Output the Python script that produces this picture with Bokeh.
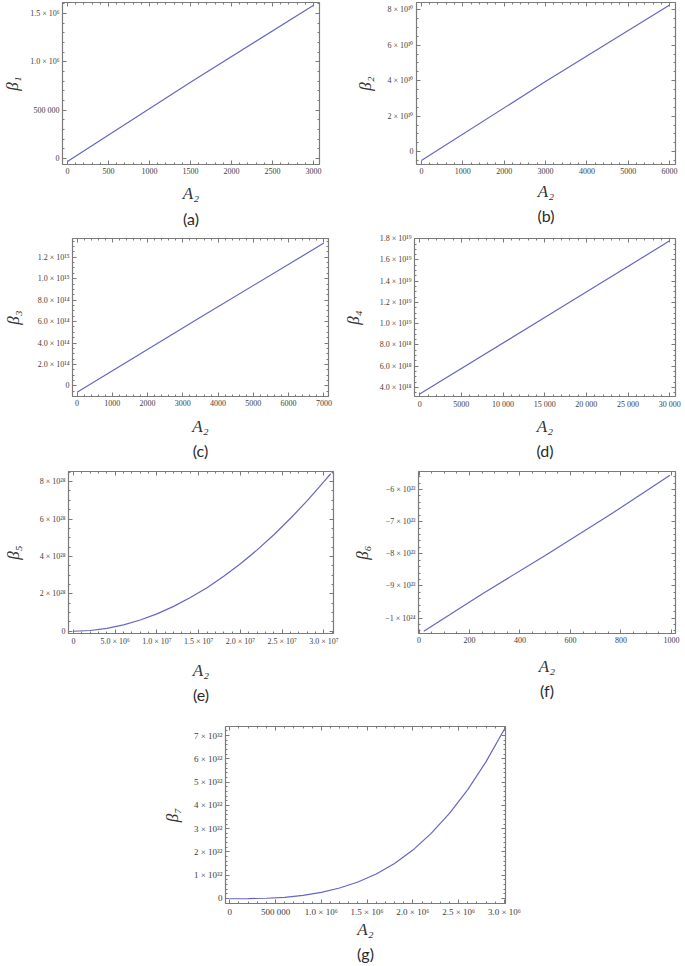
from bokeh.plotting import figure
from bokeh.models import Range1d, FixedTicker, LinearAxis, Title
from bokeh.layouts import column, row
from bokeh.embed import file_html
from bokeh.resources import INLINE
import math

# ---------------- data ----------------
# (a)
a_x = [0, 1500, 3000]
a_y = [-3.1e4, 7.9e5, 1.586e6]
a_xticks = [0, 500, 1000, 1500, 2000, 2500, 3000]
a_xlabels = ["0", "500", "1000", "1500", "2000", "2500", "3000"]
a_yticks = [0, 5e5, 1e6, 1.5e6]
a_ylabels = ["0", "500 000", "1.0 × 10⁶", "1.5 × 10⁶"]

# (b)
b_x = [0, 3000, 6000]
b_y = [-5.0e9, 3.95e10, 8.26e10]
b_xticks = [0, 1000, 2000, 3000, 4000, 5000, 6000]
b_xlabels = ["0", "1000", "2000", "3000", "4000", "5000", "6000"]
b_yticks = [0, 2e10, 4e10, 6e10, 8e10]
b_ylabels = ["0", "2 × 10¹⁰", "4 × 10¹⁰", "6 × 10¹⁰", "8 × 10¹⁰"]

# (c)
c_x = [0, 3500, 7000]
c_y = [-6.0e13, 6.4e14, 1.332e15]
c_xticks = [0, 1000, 2000, 3000, 4000, 5000, 6000, 7000]
c_xlabels = ["0", "1000", "2000", "3000", "4000", "5000", "6000", "7000"]
c_yticks = [0, 2e14, 4e14, 6e14, 8e14, 1e15, 1.2e15]
c_ylabels = ["0", "2.0 × 10¹⁴", "4.0 × 10¹⁴", "6.0 × 10¹⁴", "8.0 × 10¹⁴",
             "1.0 × 10¹⁵", "1.2 × 10¹⁵"]

# (d)
d_x = [0, 15000, 30000]
d_y = [3.39e18, 1.058e19, 1.78e19]
d_xticks = [0, 5000, 10000, 15000, 20000, 25000, 30000]
d_xlabels = ["0", "5000", "10 000", "15 000", "20 000", "25 000", "30 000"]
d_yticks = [4e18, 6e18, 8e18, 1e19, 1.2e19, 1.4e19, 1.6e19, 1.8e19]
d_ylabels = ["4.0 × 10¹⁸", "6.0 × 10¹⁸", "8.0 × 10¹⁸", "1.0 × 10¹⁹",
             "1.2 × 10¹⁹", "1.4 × 10¹⁹", "1.6 × 10¹⁹", "1.8 × 10¹⁹"]

# (e)
e_x = [0, 2e6, 4e6, 6e6, 8e6, 1.0e7, 1.2e7, 1.4e7, 1.6e7, 1.8e7, 2.0e7,
       2.2e7, 2.4e7, 2.6e7, 2.8e7, 3.0e7, 3.08e7]
e_y = [0, 4.0e26, 1.54e27, 3.41e27, 6.0e27, 9.3e27, 1.33e28, 1.8e28, 2.33e28,
       2.94e28, 3.61e28, 4.35e28, 5.16e28, 6.04e28, 6.98e28, 8.0e28, 8.42e28]
e_xticks = [0, 5e6, 1e7, 1.5e7, 2e7, 2.5e7, 3e7]
e_xlabels = ["0", "5.0 × 10⁶", "1.0 × 10⁷", "1.5 × 10⁷", "2.0 × 10⁷",
             "2.5 × 10⁷", "3.0 × 10⁷"]
e_yticks = [0, 2e28, 4e28, 6e28, 8e28]
e_ylabels = ["0", "2 × 10²⁸", "4 × 10²⁸", "6 × 10²⁸", "8 × 10²⁸"]

# (f)
f_x = [19, 250, 500, 750, 994]
f_y = [-1.041e24, -9.25e23, -8.05e23, -6.82e23, -5.56e23]
f_xticks = [0, 200, 400, 600, 800, 1000]
f_xlabels = ["0", "200", "400", "600", "800", "1000"]
f_yticks = [-1e24, -9e23, -8e23, -7e23, -6e23]
f_ylabels = ["−1 × 10²⁴", "−9 × 10²³", "−8 × 10²³", "−7 × 10²³", "−6 × 10²³"]

# (g)
g_x = [0, 2e5, 4e5, 6e5, 8e5, 1.0e6, 1.2e6, 1.4e6, 1.6e6, 1.8e6, 2.0e6,
       2.2e6, 2.4e6, 2.6e6, 2.8e6, 3.0e6]
g_y = [-1e30, -5e29, 1.0e30, 5.0e30, 1.35e31, 2.6e31, 4.5e31, 7.1e31, 1.05e32,
       1.5e32, 2.08e32, 2.8e32, 3.66e32, 4.68e32, 5.88e32, 7.27e32]
g_xticks = [0, 5e5, 1e6, 1.5e6, 2e6, 2.5e6, 3e6]
g_xlabels = ["0", "500 000", "1.0 × 10⁶", "1.5 × 10⁶", "2.0 × 10⁶",
             "2.5 × 10⁶", "3.0 × 10⁶"]
g_yticks = [0, 1e32, 2e32, 3e32, 4e32, 5e32, 6e32, 7e32]
g_ylabels = ["0", "1 × 10³²", "2 × 10³²", "3 × 10³²", "4 × 10³²",
             "5 × 10³²", "6 × 10³²", "7 × 10³²"]

ylabels_text = ["β₁", "β₂", "β₃", "β₄", "β₅", "β₆", "β₇"]
captions = ["(a)", "(b)", "(c)", "(d)", "(e)", "(f)", "(g)"]

# ---------------- style ----------------
LINE = "#6666c4"
FRAME = "#7a7a7a"
TICKTXT = "#404040"
LABTXT = "#333333"


def minor_ticks(lo, hi, step):
    k0 = math.ceil(lo / step)
    k1 = math.floor(hi / step)
    return [k * step for k in range(k0, k1 + 1)]


def panel(x, y, xt, xl, yt, yl, xr, yr, xminor, yminor, ylab, cap, lay,
          tick_size="8px", xls=4, yls=2, cap_standoff=2):
    w, h, bl, br, bt, bb = lay
    p = figure(width=w, height=h, x_range=Range1d(*xr), y_range=Range1d(*yr),
               output_backend="svg", toolbar_location=None,
               min_border_left=bl, min_border_right=br,
               min_border_top=bt, min_border_bottom=bb)
    p.xgrid.visible = False
    p.ygrid.visible = False
    p.outline_line_color = FRAME
    p.background_fill_color = "white"
    p.border_fill_color = "white"

    xtk = FixedTicker(ticks=xt, minor_ticks=minor_ticks(xr[0], xr[1], xminor))
    ytk = FixedTicker(ticks=yt, minor_ticks=minor_ticks(yr[0], yr[1], yminor))

    xa = p.xaxis[0]
    ya = p.yaxis[0]
    xa.ticker = xtk
    ya.ticker = ytk
    xa.major_label_overrides = {t: s for t, s in zip(xt, xl)}
    ya.major_label_overrides = {t: s for t, s in zip(yt, yl)}
    xa.axis_label = "A₂"
    ya.axis_label = ylab
    xa.axis_label_standoff = xls
    ya.axis_label_standoff = yls

    top = LinearAxis(ticker=xtk)
    right = LinearAxis(ticker=ytk)
    top.major_label_overrides = {t: "" for t in xt}
    right.major_label_overrides = {t: "" for t in yt}
    p.add_layout(top, "above")
    p.add_layout(right, "right")

    for ax in (xa, ya, top, right):
        ax.axis_line_color = FRAME
        ax.axis_line_width = 1.2
        ax.major_tick_line_color = FRAME
        ax.minor_tick_line_color = FRAME
        ax.major_tick_in = 4
        ax.major_tick_out = 0
        ax.minor_tick_in = 2
        ax.minor_tick_out = 0
        ax.major_label_text_font = "Liberation Serif"
        ax.major_label_text_font_size = tick_size
        ax.major_label_text_color = TICKTXT
        ax.major_label_standoff = 3
        ax.axis_label_text_font = "Liberation Serif"
        ax.axis_label_text_font_style = "italic"
        ax.axis_label_text_font_size = "17px"
        ax.axis_label_text_color = LABTXT
    for ax in (top, right):
        ax.major_label_text_font_size = "0px"
        ax.major_label_standoff = 0

    p.line(x, y, line_color=LINE, line_width=1.2)

    p.add_layout(Title(text=cap, align="center", text_font="Lato",
                       text_font_size="16px", text_font_style="normal",
                       text_color="#2a2a2a", standoff=cap_standoff), "below")
    return p


# layout tuples: (width, height, border_left, border_right, border_top, border_bottom)
pa = panel(a_x, a_y, a_xticks, a_xlabels, a_yticks, a_ylabels,
           (-60, 3072), (-6.2e4, 1.614e6), 100, 1e5, ylabels_text[0], captions[0],
           (340, 232, 57, 21, 2, 68), xls=7, yls=5, cap_standoff=2)
pb = panel(b_x, b_y, b_xticks, b_xlabels, b_yticks, b_ylabels,
           (-118, 6142), (-7.2e9, 8.4e10), 200, 5e9, ylabels_text[1], captions[1],
           (344, 232, 76, 9, 2, 66), xls=5, yls=10, cap_standoff=0)
pc = panel(c_x, c_y, c_xticks, c_xlabels, c_yticks, c_ylabels,
           (-130, 7131), (-9.9e13, 1.375e15), 200, 5e13, ylabels_text[2], captions[2],
           (340, 234, 67, 12, 6, 65), xls=8, yls=12, cap_standoff=1)
pd_ = panel(d_x, d_y, d_xticks, d_xlabels, d_yticks, d_ylabels,
            (-620, 30700), (3.15e18, 1.802e19), 1000, 5e17, ylabels_text[3], captions[3],
            (344, 234, 73, 9, 4, 70), xls=5, yls=14, cap_standoff=0)
pe = panel(e_x, e_y, e_xticks, e_xlabels, e_yticks, e_ylabels,
           (-5.9e5, 3.114e7), (-1.2e27, 8.54e28), 1e6, 5e27, ylabels_text[4], captions[4],
           (350, 256, 64, 17, 3, 89), xls=12, yls=14, cap_standoff=0)
pf = panel(f_x, f_y, f_xticks, f_xlabels, f_yticks, f_ylabels,
           (-2, 1016), (-1.048e24, -5.44e23), 50, 2e22, ylabels_text[5], captions[5],
           (334, 256, 63, 9, 5, 87), xls=11, yls=10, cap_standoff=1)
pg = panel(g_x, g_y, g_xticks, g_xlabels, g_yticks, g_ylabels,
           (-4.7e4, 3.0123e6), (-2.15e31, 7.39e32), 1e5, 2e31, ylabels_text[6], captions[6],
           (684, 242, 225, 179, 4, 61), tick_size="9px", xls=0, yls=9, cap_standoff=1)

layout = column(row(pa, pb), row(pc, pd_), row(pe, pf), pg)

open("out.html", "w").write(file_html(layout, INLINE))
